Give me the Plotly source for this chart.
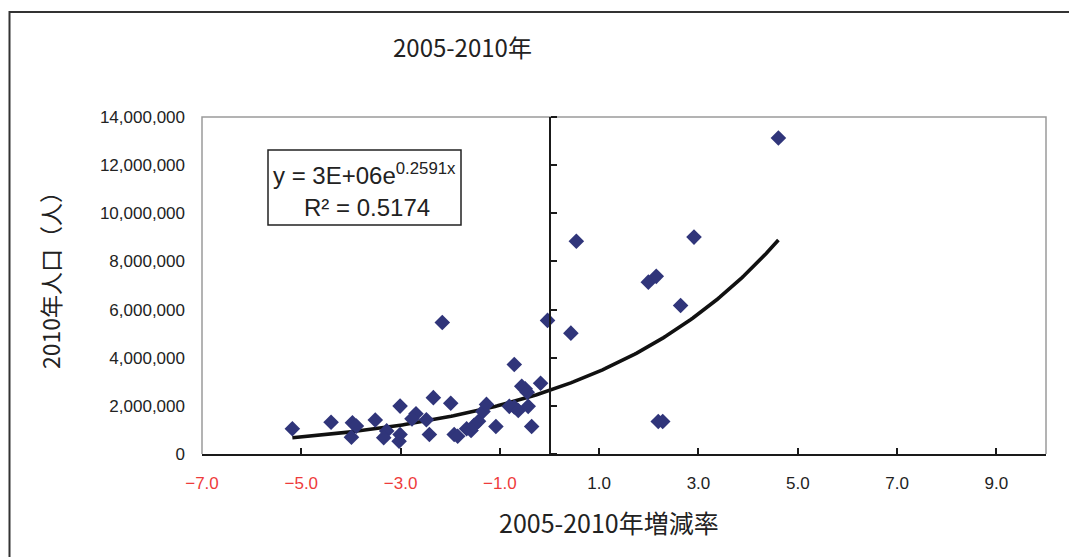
import numpy as np
import plotly.graph_objects as go

# --- data: 2005-2010 growth rate (%) vs 2010 population (persons), 47 prefectures ---
growth_rate = [
    -5.18, -4.40, -3.97, -3.89, -3.99, -3.51, -3.28, -3.34, -3.01, -3.01,
    -3.03, -2.69, -2.77, -2.48, -2.42, -2.34, -2.16, -1.99, -1.92, -1.85,
    -1.67, -1.58, -1.52, -1.43, -1.34, -1.27, -1.08, -0.71, -0.81, -0.71,
    -0.63, -0.56, -0.49, -0.45, -0.43, -0.36, -0.18, -0.04, 0.43, 0.54,
    1.99, 2.15, 2.19, 2.28, 2.64, 2.91, 4.61,
]
population = [
    1050000, 1320000, 1300000, 1160000, 700000, 1410000, 960000, 680000, 1990000, 810000,
    530000, 1670000, 1460000, 1420000, 810000, 2340000, 5460000, 2110000, 810000, 740000,
    1050000, 980000, 1190000, 1360000, 1770000, 2060000, 1140000, 3720000, 1980000, 1950000,
    1810000, 2810000, 2710000, 2570000, 1980000, 1140000, 2940000, 5550000, 5020000, 8840000,
    7140000, 7380000, 1350000, 1350000, 6170000, 9010000, 13130000,
]

x_tick_vals = [-7, -5, -3, -1, 1, 3, 5, 7, 9]
y_tick_vals = [0, 2000000, 4000000, 6000000, 8000000, 10000000, 12000000, 14000000]

chart_title = "2005-2010年"
x_title = "2005-2010年増減率"
y_title = "2010年人口（人）"
equation_text = "y = 3E+06e<sup>0.2591x</sup>"
r2_text = "R² = 0.5174"

X_RANGE = [-7, 10]
Y_RANGE = [0, 14000000]

# --- exponential trendline fitted from the data (least squares on ln y) ---
xa = np.array(growth_rate)
ya = np.array(population)
b, lna = np.polyfit(xa, np.log(ya), 1)
xs = np.linspace(xa.min(), xa.max(), 200)
ys = np.exp(lna) * np.exp(b * xs)

CJK = "Noto Sans CJK JP"
NUM = "Liberation Sans, Arial, sans-serif"

# page offset of the figure (default body margin) and plot-area geometry in page pixels
PAGE_OFF = 8
PL, PR, PT, PB = 202, 1046, 117, 454
PW, PH = PR - PL, PB - PT


def px_x(x):
    return (x - PL) / PW


def px_y(y):
    return (PB - y) / PH


def fmt_tick(v):
    s = f"{abs(v):.1f}"
    if v < 0:
        return f'<span style="color:#EE3B3B">\u2212{s}</span>'
    return s


fig = go.Figure()

fig.add_trace(go.Scatter(
    x=xs, y=ys, mode="lines",
    line=dict(color="#111111", width=3.6),
    hoverinfo="skip", showlegend=False,
))
fig.add_trace(go.Scatter(
    x=growth_rate, y=population, mode="markers",
    marker=dict(symbol="diamond", size=12, color="#30357A"),
    showlegend=False,
))
# invisible trace to carry the secondary (x=0) y axis
fig.add_trace(go.Scatter(x=[None], y=[None], yaxis="y2", showlegend=False))

x0_frac = (0 - X_RANGE[0]) / (X_RANGE[1] - X_RANGE[0])

W, H = 1077 - PAGE_OFF, 557 - PAGE_OFF
fig.update_layout(
    width=W, height=H,
    margin=dict(l=PL - PAGE_OFF, r=W - (PR - PAGE_OFF), t=PT - PAGE_OFF, b=H - (PB - PAGE_OFF)),
    paper_bgcolor="white", plot_bgcolor="white",
    xaxis=dict(
        range=X_RANGE, showgrid=False, zeroline=False,
        showline=True, linecolor="#1a1a1a", linewidth=2,
        ticks="inside", ticklen=6, tickwidth=1.5, tickcolor="#1a1a1a",
        tickvals=x_tick_vals, ticktext=[fmt_tick(v) for v in x_tick_vals],
        tickfont=dict(family=NUM, size=17, color="#222222"),
        ticklabelstandoff=13,
        domain=[0, 1],
    ),
    yaxis=dict(
        range=Y_RANGE, showgrid=False, zeroline=False, showline=False,
        ticks="", tickvals=y_tick_vals, tickformat=",d",
        tickfont=dict(family=NUM, size=17, color="#222222"),
        ticklabelstandoff=16,
    ),
    yaxis2=dict(
        range=Y_RANGE, overlaying="y", anchor="free", position=x0_frac,
        side="right", showgrid=False, zeroline=False,
        showline=True, linecolor="#1a1a1a", linewidth=2,
        ticks="outside", ticklen=6, tickwidth=1.5, tickcolor="#1a1a1a",
        tickvals=y_tick_vals, showticklabels=False,
    ),
    shapes=[
        # plot area frame (left, top, right)
        dict(type="path", xref="paper", yref="paper",
             path="M 0 0 L 0 1 L 1 1 L 1 0",
             line=dict(color="#9a9a9a", width=1.5), layer="below"),
        # chart area border (top and left visible)
        dict(type="path", xref="paper", yref="paper",
             path=f"M {px_x(9.5)} {px_y(600)} L {px_x(9.5)} {px_y(12)} L {px_x(1100)} {px_y(12)}",
             line=dict(color="#333333", width=2)),
        # equation box
        dict(type="rect", xref="paper", yref="paper",
             x0=px_x(268), x1=px_x(461), y0=px_y(225), y1=px_y(150),
             line=dict(color="#222222", width=1.5), fillcolor="white"),
    ],
    annotations=[
        dict(text=chart_title, xref="paper", yref="paper",
             x=px_x(462), y=px_y(47), xanchor="center", yanchor="middle",
             showarrow=False, font=dict(family=CJK, size=24, color="#222222")),
        dict(text=x_title, xref="paper", yref="paper",
             x=px_x(609), y=px_y(522), xanchor="center", yanchor="middle",
             showarrow=False, font=dict(family=CJK, size=25, color="#222222")),
        dict(text=y_title, xref="paper", yref="paper", textangle=-90,
             x=px_x(50), y=px_y(275), xanchor="center", yanchor="middle",
             showarrow=False, font=dict(family=CJK, size=23, color="#222222")),
        dict(text=equation_text, xref="paper", yref="paper",
             x=px_x(364), y=px_y(174), xanchor="center", yanchor="middle",
             showarrow=False, font=dict(family=NUM, size=24, color="#222222")),
        dict(text=r2_text, xref="paper", yref="paper",
             x=px_x(367), y=px_y(207), xanchor="center", yanchor="middle",
             showarrow=False, font=dict(family=NUM, size=24, color="#222222")),
    ],
)

fig.write_html("out.html")
